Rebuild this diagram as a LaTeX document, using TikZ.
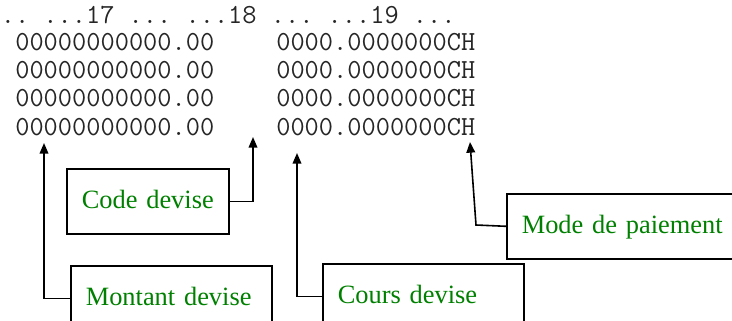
\documentclass[tikz,border=0pt]{standalone}
\usepackage{fontspec}
\setmainfont{Liberation Serif}
\usetikzlibrary{arrows.meta}
\definecolor{labelgreen}{RGB}{0,128,0}
\frenchspacing

\begin{document}
\begin{tikzpicture}[x=0.75pt,y=-0.75pt,>={Triangle[length=8pt,width=6.5pt]},line width=1.2pt,
  row/.style={font=\ttfamily\fontsize{20.7}{24}\selectfont,text=black!85,inner sep=0pt,anchor=base west},
  field box/.style={draw,anchor=north west,font=\fontsize{19.8}{24}\selectfont,text=labelgreen,
    align=left,inner xsep=11.25pt,inner ysep=0pt,minimum height=48.75pt,
    text height=14.85pt,text depth=3.96pt}]

  \clip (0,0) rectangle (732,321);

  \node[row] (head) at (0,24) {.. ...17 ... ...18 ... ...19 ...};

  \node[row] (amt1) at (14.5,51) {00000000000.00};
  \node[row] (amt2) at (14.5,79) {00000000000.00};
  \node[row] (amt3) at (14.5,107) {00000000000.00};
  \node[row] (amt4) at (14.5,135) {00000000000.00};

  \node[row] (rate1) at (275.5,51) {0000.0000000CH};
  \node[row] (rate2) at (275.5,79) {0000.0000000CH};
  \node[row] (rate3) at (275.5,107) {0000.0000000CH};
  \node[row] (rate4) at (275.5,135) {0000.0000000CH};

  \node[field box,text width=99pt] (code) at (66,168) {Code devise};
  \node[field box,text width=128.25pt] (mont) at (70,265) {Montant devise};
  \node[field box,text width=128.25pt] (cours) at (322,263) {Cours devise};
  \node[field box,text width=157.5pt] (mode) at (506,193) {Mode de paiement};

  \coordinate (amttip) at (44,143);
  \coordinate (codetip) at (253,137);
  \coordinate (courstip) at (297,153);
  \coordinate (modebend) at (476,225);
  \coordinate (modetip) at (470,142);

  \draw[->] (mont.west) -| (amttip);
  \draw[->] (code.east) -| (codetip);
  \draw[->] (cours.west) -| (courstip);
  \draw[->] (mode.west) -- (modebend) -- (modetip);
\end{tikzpicture}
\end{document}
